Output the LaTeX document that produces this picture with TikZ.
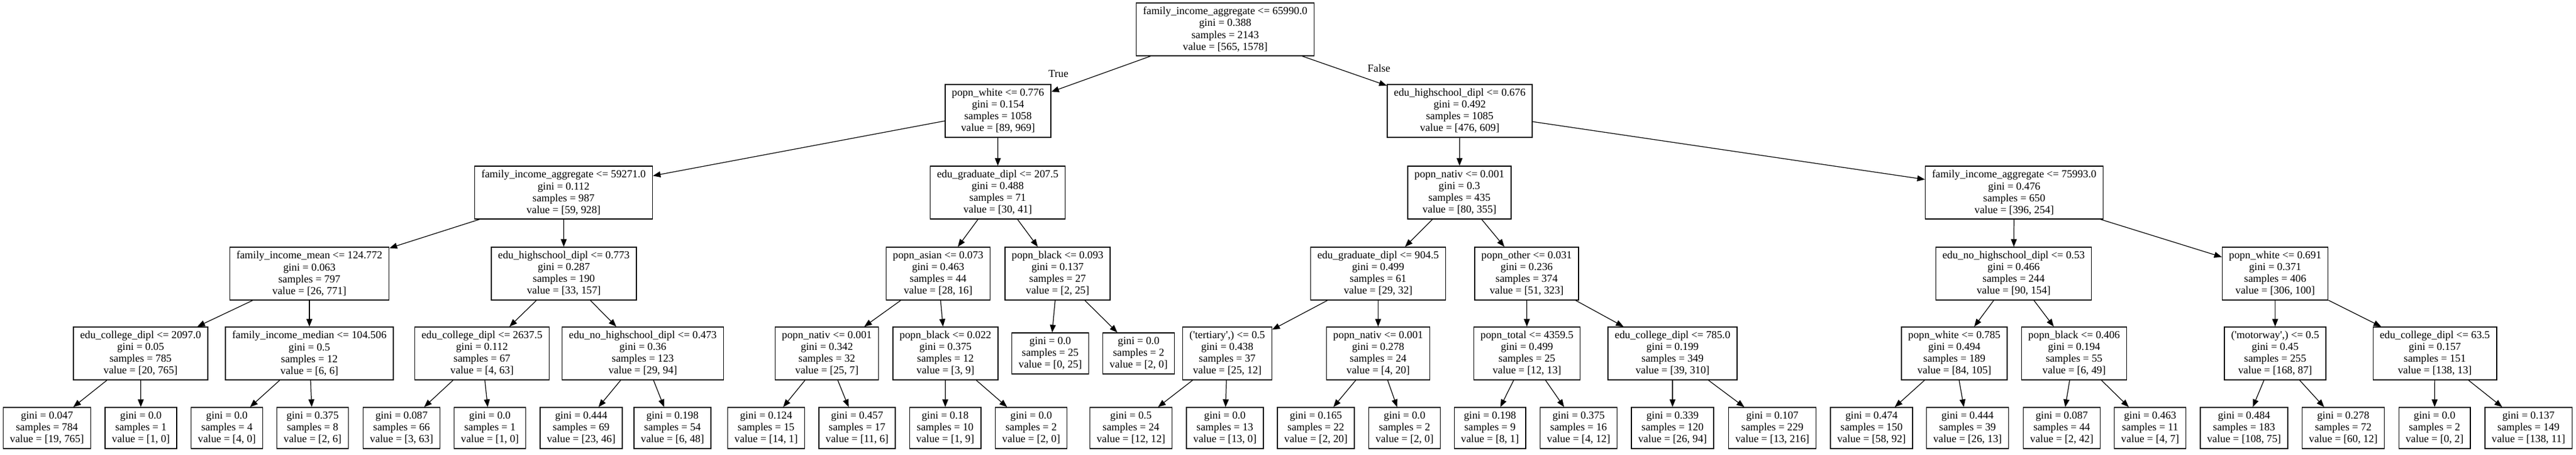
\documentclass[tikz,border=0pt]{standalone}
\usepackage{fontspec}
\setmainfont{Liberation Serif}
\usetikzlibrary{arrows.meta}
\begin{document}
\begin{tikzpicture}[
    box/.style={rectangle, draw, line width=0.4pt, align=center, inner xsep=0.115cm, inner ysep=0pt, minimum height=0.9cm, font=\fontsize{5.2}{5.7}\selectfont},
    leaf/.style={box, minimum height=0.7cm},
    arrow/.style={-{Triangle[length=0.13cm, width=0.1cm]}, line width=0.35pt},
    edgelabel/.style={font=\fontsize{5.2}{5.7}\selectfont}
]
\useasboundingbox (0,0) rectangle (43.88,-7.75);

% Root
\node[box] (root) at (20.87, -0.50) {family\_income\_aggregate <= 65990.0\\gini = 0.388\\samples = 2143\\value = [565, 1578]};

% Level 1
\node[box] (white1) at (17.00, -1.89) {popn\_white <= 0.776\\gini = 0.154\\samples = 1058\\value = [89, 969]};
\node[box] (hs1) at (24.865, -1.89) {edu\_highschool\_dipl <= 0.676\\gini = 0.492\\samples = 1085\\value = [476, 609]};

% Level 2
\node[box] (agg1) at (9.60, -3.28) {family\_income\_aggregate <= 59271.0\\gini = 0.112\\samples = 987\\value = [59, 928]};
\node[box] (grad1) at (16.995, -3.28) {edu\_graduate\_dipl <= 207.5\\gini = 0.488\\samples = 71\\value = [30, 41]};
\node[box] (nativ1) at (24.86, -3.28) {popn\_nativ <= 0.001\\gini = 0.3\\samples = 435\\value = [80, 355]};
\node[box] (agg2) at (34.31, -3.28) {family\_income\_aggregate <= 75993.0\\gini = 0.476\\samples = 650\\value = [396, 254]};

% Level 3
\node[box] (mean) at (5.27, -4.66) {family\_income\_mean <= 124.772\\gini = 0.063\\samples = 797\\value = [26, 771]};
\node[box] (hs2) at (9.605, -4.66) {edu\_highschool\_dipl <= 0.773\\gini = 0.287\\samples = 190\\value = [33, 157]};
\node[box] (asian) at (15.98, -4.66) {popn\_asian <= 0.073\\gini = 0.463\\samples = 44\\value = [28, 16]};
\node[box] (black1) at (18.015, -4.66) {popn\_black <= 0.093\\gini = 0.137\\samples = 27\\value = [2, 25]};
\node[box] (grad2) at (23.475, -4.66) {edu\_graduate\_dipl <= 904.5\\gini = 0.499\\samples = 61\\value = [29, 32]};
\node[box] (other) at (26.005, -4.66) {popn\_other <= 0.031\\gini = 0.236\\samples = 374\\value = [51, 323]};
\node[box] (nohs1) at (34.30, -4.66) {edu\_no\_highschool\_dipl <= 0.53\\gini = 0.466\\samples = 244\\value = [90, 154]};
\node[box] (white2) at (38.755, -4.66) {popn\_white <= 0.691\\gini = 0.371\\samples = 406\\value = [306, 100]};

% Level 4
\node[box] (college1) at (2.395, -6.02) {edu\_college\_dipl <= 2097.0\\gini = 0.05\\samples = 785\\value = [20, 765]};
\node[box] (median) at (5.27, -6.02) {family\_income\_median <= 104.506\\gini = 0.5\\samples = 12\\value = [6, 6]};
\node[box] (college2) at (8.21, -6.02) {edu\_college\_dipl <= 2637.5\\gini = 0.112\\samples = 67\\value = [4, 63]};
\node[box] (nohs2) at (10.95, -6.02) {edu\_no\_highschool\_dipl <= 0.473\\gini = 0.36\\samples = 123\\value = [29, 94]};
\node[box] (nativ2) at (14.085, -6.02) {popn\_nativ <= 0.001\\gini = 0.342\\samples = 32\\value = [25, 7]};
\node[box] (black2) at (16.105, -6.02) {popn\_black <= 0.022\\gini = 0.375\\samples = 12\\value = [3, 9]};
\node[leaf] (black1a) at (17.89, -6.02) {gini = 0.0\\samples = 25\\value = [0, 25]};
\node[leaf] (black1b) at (19.395, -6.02) {gini = 0.0\\samples = 2\\value = [2, 0]};
\node[box] (tert) at (20.905, -6.02) {(\textquotesingle tertiary\textquotesingle,) <= 0.5\\gini = 0.438\\samples = 37\\value = [25, 12]};
\node[box] (nativ3) at (23.475, -6.02) {popn\_nativ <= 0.001\\gini = 0.278\\samples = 24\\value = [4, 20]};
\node[box] (total) at (26.01, -6.02) {popn\_total <= 4359.5\\gini = 0.499\\samples = 25\\value = [12, 13]};
\node[box] (college3) at (28.49, -6.02) {edu\_college\_dipl <= 785.0\\gini = 0.199\\samples = 349\\value = [39, 310]};
\node[box] (white3) at (33.29, -6.02) {popn\_white <= 0.785\\gini = 0.494\\samples = 189\\value = [84, 105]};
\node[box] (black3) at (35.33, -6.02) {popn\_black <= 0.406\\gini = 0.194\\samples = 55\\value = [6, 49]};
\node[box] (motor) at (38.755, -6.02) {(\textquotesingle motorway\textquotesingle,) <= 0.5\\gini = 0.45\\samples = 255\\value = [168, 87]};
\node[box] (college4) at (41.475, -6.02) {edu\_college\_dipl <= 63.5\\gini = 0.157\\samples = 151\\value = [138, 13]};

% Leaves
\node[leaf] (l1) at (0.80, -7.29) {gini = 0.047\\samples = 784\\value = [19, 765]};
\node[leaf] (l2) at (2.40, -7.29) {gini = 0.0\\samples = 1\\value = [1, 0]};
\node[leaf] (l3) at (3.865, -7.29) {gini = 0.0\\samples = 4\\value = [4, 0]};
\node[leaf] (l4) at (5.325, -7.29) {gini = 0.375\\samples = 8\\value = [2, 6]};
\node[leaf] (l5) at (6.84, -7.29) {gini = 0.087\\samples = 66\\value = [3, 63]};
\node[leaf] (l6) at (8.345, -7.29) {gini = 0.0\\samples = 1\\value = [1, 0]};
\node[leaf] (l7) at (9.90, -7.29) {gini = 0.444\\samples = 69\\value = [23, 46]};
\node[leaf] (l8) at (11.455, -7.29) {gini = 0.198\\samples = 54\\value = [6, 48]};
\node[leaf] (l9) at (13.05, -7.29) {gini = 0.124\\samples = 15\\value = [14, 1]};
\node[leaf] (l10) at (14.60, -7.29) {gini = 0.457\\samples = 17\\value = [11, 6]};
\node[leaf] (l11) at (16.10, -7.29) {gini = 0.18\\samples = 10\\value = [1, 9]};
\node[leaf] (l12) at (17.565, -7.29) {gini = 0.0\\samples = 2\\value = [2, 0]};
\node[leaf] (l13) at (19.265, -7.29) {gini = 0.5\\samples = 24\\value = [12, 12]};
\node[leaf] (l14) at (20.865, -7.29) {gini = 0.0\\samples = 13\\value = [13, 0]};
\node[leaf] (l15) at (22.415, -7.29) {gini = 0.165\\samples = 22\\value = [2, 20]};
\node[leaf] (l16) at (23.925, -7.29) {gini = 0.0\\samples = 2\\value = [2, 0]};
\node[leaf] (l17) at (25.38, -7.29) {gini = 0.198\\samples = 9\\value = [8, 1]};
\node[leaf] (l18) at (26.89, -7.29) {gini = 0.375\\samples = 16\\value = [4, 12]};
\node[leaf] (l19) at (28.49, -7.29) {gini = 0.339\\samples = 120\\value = [26, 94]};
\node[leaf] (l20) at (30.19, -7.29) {gini = 0.107\\samples = 229\\value = [13, 216]};
\node[leaf] (l21) at (31.88, -7.29) {gini = 0.474\\samples = 150\\value = [58, 92]};
\node[leaf] (l22) at (33.515, -7.29) {gini = 0.444\\samples = 39\\value = [26, 13]};
\node[leaf] (l23) at (35.12, -7.29) {gini = 0.087\\samples = 44\\value = [2, 42]};
\node[leaf] (l24) at (36.625, -7.29) {gini = 0.463\\samples = 11\\value = [4, 7]};
\node[leaf] (l25) at (38.225, -7.29) {gini = 0.484\\samples = 183\\value = [108, 75]};
\node[leaf] (l26) at (39.915, -7.29) {gini = 0.278\\samples = 72\\value = [60, 12]};
\node[leaf] (l27) at (41.47, -7.29) {gini = 0.0\\samples = 2\\value = [0, 2]};
\node[leaf] (l28) at (43.07, -7.29) {gini = 0.137\\samples = 149\\value = [138, 11]};

% Connections
\draw[arrow] (root) -- (white1);
\draw[arrow] (root) -- (hs1);
\draw[arrow] (white1) -- (agg1);
\draw[arrow] (white1) -- (grad1);
\draw[arrow] (hs1) -- (nativ1);
\draw[arrow] (hs1) -- (agg2);
\draw[arrow] (agg1) -- (mean);
\draw[arrow] (agg1) -- (hs2);
\draw[arrow] (grad1) -- (asian);
\draw[arrow] (grad1) -- (black1);
\draw[arrow] (nativ1) -- (grad2);
\draw[arrow] (nativ1) -- (other);
\draw[arrow] (agg2) -- (nohs1);
\draw[arrow] (agg2) -- (white2);
\draw[arrow] (mean) -- (college1);
\draw[arrow] (mean) -- (median);
\draw[arrow] (hs2) -- (college2);
\draw[arrow] (hs2) -- (nohs2);
\draw[arrow] (asian) -- (nativ2);
\draw[arrow] (asian) -- (black2);
\draw[arrow] (black1) -- (black1a);
\draw[arrow] (black1) -- (black1b);
\draw[arrow] (grad2) -- (tert);
\draw[arrow] (grad2) -- (nativ3);
\draw[arrow] (other) -- (total);
\draw[arrow] (other) -- (college3);
\draw[arrow] (nohs1) -- (white3);
\draw[arrow] (nohs1) -- (black3);
\draw[arrow] (white2) -- (motor);
\draw[arrow] (white2) -- (college4);
\draw[arrow] (college1) -- (l1);
\draw[arrow] (college1) -- (l2);
\draw[arrow] (median) -- (l3);
\draw[arrow] (median) -- (l4);
\draw[arrow] (college2) -- (l5);
\draw[arrow] (college2) -- (l6);
\draw[arrow] (nohs2) -- (l7);
\draw[arrow] (nohs2) -- (l8);
\draw[arrow] (nativ2) -- (l9);
\draw[arrow] (nativ2) -- (l10);
\draw[arrow] (black2) -- (l11);
\draw[arrow] (black2) -- (l12);
\draw[arrow] (tert) -- (l13);
\draw[arrow] (tert) -- (l14);
\draw[arrow] (nativ3) -- (l15);
\draw[arrow] (nativ3) -- (l16);
\draw[arrow] (total) -- (l17);
\draw[arrow] (total) -- (l18);
\draw[arrow] (college3) -- (l19);
\draw[arrow] (college3) -- (l20);
\draw[arrow] (white3) -- (l21);
\draw[arrow] (white3) -- (l22);
\draw[arrow] (black3) -- (l23);
\draw[arrow] (black3) -- (l24);
\draw[arrow] (motor) -- (l25);
\draw[arrow] (motor) -- (l26);
\draw[arrow] (college4) -- (l27);
\draw[arrow] (college4) -- (l28);

% Edge labels
\node[edgelabel] (truelbl) at (18.03, -1.26) {True};
\node[edgelabel] (falselbl) at (23.49, -1.16) {False};

\end{tikzpicture}
\end{document}
